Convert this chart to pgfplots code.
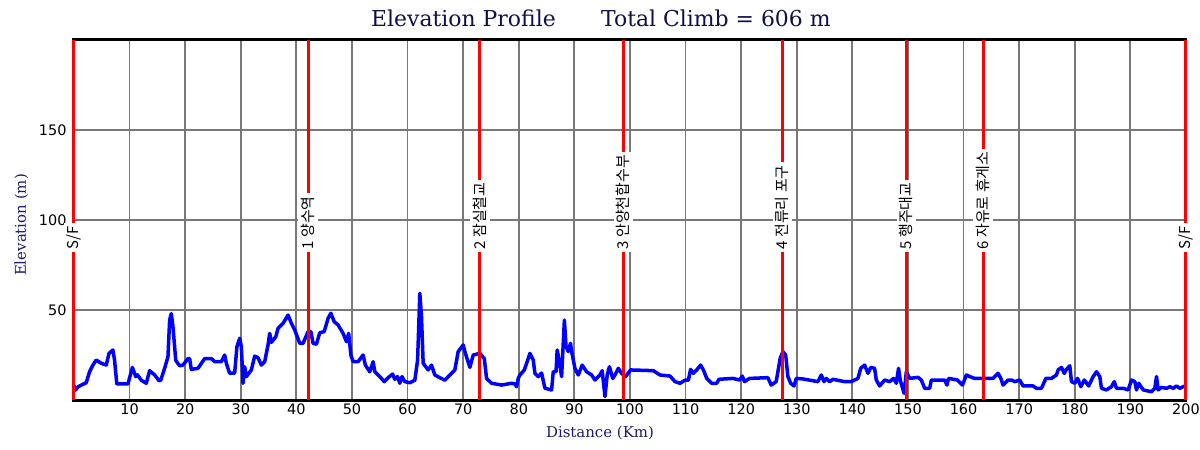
\documentclass[border=0pt]{standalone}
\usepackage{fontspec}
\setmainfont{DejaVu Serif}
\newfontfamily\ticksf{DejaVu Sans}
\newfontfamily\kr{Noto Sans CJK KR}
\usepackage{pgfplots}
\pgfplotsset{compat=1.18}
\definecolor{titlenavy}{RGB}{16,16,72}
\definecolor{labnavy}{RGB}{28,28,110}
\definecolor{gridgray}{RGB}{120,120,120}
\definecolor{profblue}{RGB}{0,0,255}
\definecolor{markred}{RGB}{255,0,0}
\begin{document}
\begin{tikzpicture}
\path[use as bounding box] (-74bp,-50bp) rectangle (1126bp,400bp);
\begin{axis}[
 at={(0,0)}, anchor=south west,
 scale only axis, width=1112bp, height=360bp,
 xmin=0, xmax=200, ymin=0, ymax=200,
 xtick={10,20,...,200}, ytick={50,100,150},
 grid=major, major grid style={gridgray, line width=1.8bp},
 major tick length=0pt,
 axis line style={black, line width=3bp},
 clip=false,
 /pgf/number format/assume math mode=true,
 ticklabel style={font=\ticksf\fontsize{14.5}{14.5}\selectfont},
 yticklabel style={xshift=-4bp},
 xlabel={Distance (Km)}, ylabel={Elevation (m)},
 label style={font=\fontsize{15}{15}\selectfont, text=labnavy},
 xlabel style={at={(axis description cs:0.473,0)}, anchor=base, yshift=-37bp},
 ylabel style={at={(axis description cs:-0.0432,0.486)}, anchor=base},
]
\addplot[profblue, line width=3.5bp, line join=round, no marks] coordinates {
(0.0,8) (0.3,5.5) (0.6,7) (1.0,7.8) (2.2,9.6) (2.8,15.7) (3.4,19.4) (4.0,22.2) (4.9,20.4) (5.8,19.4)
(6.3,25.9) (7.0,27.8) (7.3,22) (7.7,8.9) (9.7,8.9) (10.5,18.1) (11.1,13) (11.4,14) (12.1,11) (13.0,9.3)
(13.6,16.3) (14.5,13.9) (15.3,10.7) (15.6,11) (16.3,17.6) (16.9,24) (17.2,44.4) (17.5,48) (17.8,40.7) (18.3,22)
(19.0,19) (19.6,19.4) (20.5,23) (20.8,23) (21.1,17) (22.3,17.6) (23.5,23) (24.7,23) (25.3,21.3) (26.5,21.3)
(27.1,25) (27.4,20.4) (28.0,14.8) (28.9,15) (29.3,29.6) (29.8,34.3) (30.1,29.6) (30.4,9.3) (30.7,18.5) (31.0,13)
(31.9,16.7) (32.5,24.4) (33.1,23.5) (33.7,19.4) (34.3,21.3) (34.9,30.6) (35.2,37) (35.5,32) (36.3,35.2) (36.7,39.8)
(37.6,42.6) (38.5,47.2) (39.1,42.6) (39.7,38.9) (40.6,31.5) (41.2,31.5) (42.1,38) (42.6,38) (43.0,31.5) (43.6,31)
(44.2,37.4) (45.0,38) (45.7,45.4) (46.2,48.2) (46.8,43.5) (47.5,41.7) (48.4,37) (49.0,32.4) (49.4,37) (49.8,25)
(50.2,21.3) (51.1,21.3) (52.0,25) (52.4,19.4) (53.2,15.7) (53.8,21.3) (54.1,15.7) (55.0,13) (55.8,10.2) (56.5,12.4)
(57.3,14.4) (57.7,11.5) (58.2,13) (58.6,9.3) (59.0,13) (59.5,10.2) (60.4,9.6) (61.3,11) (61.8,22.2) (62.2,59.3)
(62.5,46.3) (62.8,20.4) (63.7,16.7) (64.3,19.4) (64.9,13.9) (65.8,12.4) (66.7,11) (67.6,13.9) (68.5,16.7) (69.1,26.9)
(70.0,30.6) (70.3,26.9) (71.2,18.1) (71.8,25) (73.0,25.9) (73.8,23) (74.2,12) (75.1,9.3) (76.9,8.3) (78.7,9.3)
(79.3,8.9) (79.6,7.4) (79.9,12) (80.2,13.9) (81.0,16.7) (82.0,25.9) (82.6,22.2) (82.9,14.8) (83.5,13) (84.1,15)
(84.7,6.5) (85.9,5.6) (86.2,15.7) (86.7,15.7) (86.9,27.8) (87.3,21.3) (87.7,13) (88.2,44.4) (88.5,29.6) (88.9,26.9)
(89.3,31.5) (89.5,27) (90.1,17.6) (90.7,13.9) (91.4,19.4) (92.2,15.7) (93.1,13.9) (93.7,11.1) (94.6,13.9) (95.0,16.3)
(95.5,1.9) (95.9,13.9) (96.3,18.5) (96.9,12) (97.3,13.9) (97.9,17.6) (98.5,14.8) (99.2,13) (100.1,16.7) (104.2,16.3)
(105.4,13.9) (107.2,13.3) (108.1,10.2) (109.0,9.3) (109.9,11) (110.5,11) (110.9,17) (111.4,14.8) (112.0,16.7) (112.7,19.4)
(113.2,16.7) (113.8,12) (114.7,9.3) (115.6,9.3) (116.0,11.5) (118.5,12) (119.7,11.1) (120.2,13.3) (120.6,10.2) (121.5,12)
(124.8,12.4) (125.4,8.3) (126.3,10.2) (127.0,23) (127.5,26.9) (128.0,25) (128.4,13) (128.9,9.3) (129.5,7.8) (129.9,12)
(131.1,11.7) (133.8,10.2) (134.4,13.9) (134.9,10.2) (135.3,12) (135.9,10.2) (136.5,11.5) (138.6,10.2) (139.8,10.2) (141.0,12)
(141.5,17.6) (142.2,19.4) (142.8,14.8) (143.3,18.1) (144.0,17.6) (144.3,11.1) (144.9,7.8) (145.8,11.1) (146.7,10.2) (147.4,12)
(147.9,9.3) (148.3,17.6) (148.6,11.1) (149.3,3.7) (149.7,15.7) (150.3,12) (151.8,12.6) (152.4,11.1) (153.0,6.5) (153.9,6.5)
(154.2,11.1) (156.6,11.1) (157.0,8.3) (157.3,12) (158.9,11.1) (159.8,8.3) (160.5,13.9) (161.1,13) (162.0,12) (165.3,12)
(166.2,14.8) (166.7,12) (167.1,8.3) (168.0,11.1) (168.6,11.1) (169.2,10.2) (170.1,11.1) (170.7,7.8) (172.5,7.8) (173.1,6.5)
(174.0,6.5) (174.8,12) (175.8,12) (176.7,13.9) (177.0,16.7) (177.6,18.1) (178.1,14.8) (178.5,17) (179.1,19) (179.4,10.2)
(180.0,9.3) (180.5,12) (181.1,7.4) (181.7,11.1) (182.5,7.8) (183.3,13) (183.9,15.7) (184.5,13) (184.8,6.5) (185.7,5.6)
(186.6,7.4) (187.1,10.2) (187.5,6.5) (188.7,6.5) (189.6,5.6) (190.2,11.1) (190.8,10.2) (191.1,5.6) (191.5,9.3) (192.3,5.6)
(193.8,4.6) (194.4,6.5) (194.7,13) (195.0,5.6) (195.6,7) (196.5,6.5) (197.1,7.4) (197.7,6.5) (198.3,7.8) (198.9,6.5)
(199.5,7.4) (199.8,7.8)
};
\addplot[markred, line width=3bp, no marks] coordinates {(0,0) (0,200)};
\addplot[markred, line width=3bp, no marks] coordinates {(42.1,0) (42.1,200)};
\addplot[markred, line width=3bp, no marks] coordinates {(73.0,0) (73.0,200)};
\addplot[markred, line width=3bp, no marks] coordinates {(98.8,0) (98.8,200)};
\addplot[markred, line width=3bp, no marks] coordinates {(127.4,0) (127.4,200)};
\addplot[markred, line width=3bp, no marks] coordinates {(149.7,0) (149.7,200)};
\addplot[markred, line width=3bp, no marks] coordinates {(163.5,0) (163.5,200)};
\addplot[markred, line width=3bp, no marks] coordinates {(200,0) (200,200)};
\begin{scope}[every node/.style={rotate=90, anchor=west, fill=white, inner sep=3bp, text=black, font=\kr\fontsize{15}{15}\selectfont}]
\node at (axis cs:0,82) {S/F};
\node at (axis cs:42.1,82) {1 양수역};
\node at (axis cs:73.0,82) {2 잠실철교};
\node at (axis cs:98.8,82) {3 안양천합수부};
\node at (axis cs:127.4,82) {4 전류리 포구};
\node at (axis cs:149.7,82) {5 행주대교};
\node at (axis cs:163.5,82) {6 자유로 휴게소};
\node at (axis cs:200,82) {S/F};
\end{scope}
\end{axis}
\node[anchor=base west, font=\fontsize{22}{22}\selectfont, text=titlenavy, inner sep=0pt] at (297bp,373bp) {Elevation Profile};
\node[anchor=base west, font=\fontsize{22}{22}\selectfont, text=titlenavy, inner sep=0pt] at (527bp,373bp) {Total Climb = 606 m};
\end{tikzpicture}
\end{document}
